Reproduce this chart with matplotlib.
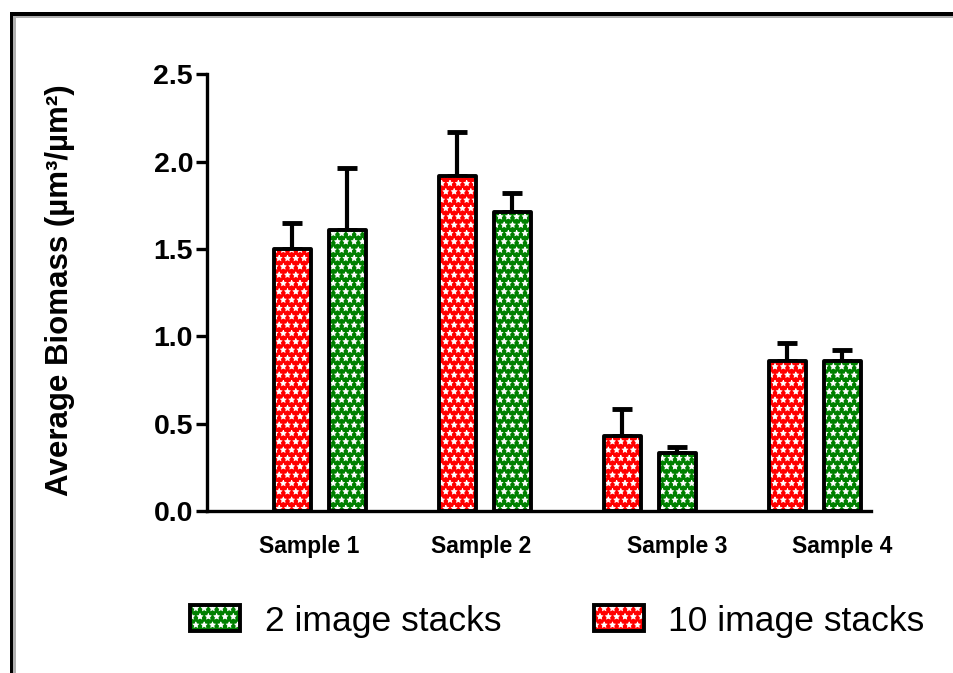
import numpy as np
import matplotlib
matplotlib.use("Agg")
import matplotlib.pyplot as plt
from matplotlib.patches import Patch, Rectangle
from matplotlib.legend_handler import HandlerTuple

plt.rcParams['font.family'] = ['Liberation Sans', 'DejaVu Sans']
plt.rcParams['hatch.linewidth'] = 0.6

samples = ['Sample 1', 'Sample 2', 'Sample 3', 'Sample 4']
ten_stacks = [1.50, 1.92, 0.43, 0.86]
ten_err = [0.15, 0.25, 0.155, 0.10]
two_stacks = [1.61, 1.71, 0.33, 0.86]
two_err = [0.355, 0.11, 0.035, 0.06]
yticks = [0.0, 0.5, 1.0, 1.5, 2.0, 2.5]

red = '#ff0000'
green = '#008000'

W, H = 954, 673
fig = plt.figure(figsize=(W / 100, H / 100), dpi=100)
ax = fig.add_axes([207 / W, 1 - 511 / H, (871 - 207) / W, (511 - 74.5) / H])

x = np.arange(len(samples))
off = 0.1667
bw = 0.224


def hatched_bars(xpos, vals, color):
    # fill + white pattern, then black outline on top
    ax.bar(xpos, vals, bw, color=color, edgecolor='white', hatch='**',
           linewidth=0, zorder=2)
    ax.bar(xpos, vals, bw, fill=False, edgecolor='black', linewidth=2.8,
           joinstyle='round', zorder=3)


hatched_bars(x - off, ten_stacks, red)
hatched_bars(x + off, two_stacks, green)

for xpos, vals, err in [(x - off, ten_stacks, ten_err), (x + off, two_stacks, two_err)]:
    ax.errorbar(xpos, vals, yerr=[np.zeros(len(vals)), err], fmt='none',
                ecolor='black', elinewidth=3, capsize=7.5, capthick=3.5, zorder=1.5)

ax.set_xlim(-0.682, 3.342)
ax.set_ylim(0, 2.5)

for s in ['top', 'right']:
    ax.spines[s].set_visible(False)
for s in ['left', 'bottom']:
    ax.spines[s].set_linewidth(2.4)

ax.set_yticks(yticks)
ax.set_yticklabels(['%.1f' % v for v in yticks], fontsize=20.5, fontweight='bold')
ax.tick_params(axis='y', length=8, width=2.4, pad=2)

# labels sit a bit off the group centres in the original
label_shift = [-0.06, -0.02, 0.17, 0.17]
ax.set_xticks(x + np.array(label_shift))
ax.set_xticklabels(samples, fontsize=16.5, fontweight='bold')
ax.tick_params(axis='x', length=0, pad=17)

ax.set_ylabel('Average Biomass (µm³/µm²)', fontsize=22.5, fontweight='bold')
ax.yaxis.set_label_coords(-0.199, 0.506)


# legend
def proxy(color):
    return (Patch(facecolor=color, edgecolor='white', hatch='**', linewidth=0),
            Patch(fill=False, edgecolor='black', linewidth=2.8, joinstyle='round'))


fig.legend([proxy(green), proxy(red)], ['2 image stacks', '10 image stacks'],
           handler_map={tuple: HandlerTuple(ndivide=1, pad=0)},
           loc='center', bbox_to_anchor=(557.5 / W, 1 - 621 / H), ncol=2,
           frameon=False, fontsize=25.5, handlelength=1.41, handleheight=0.76,
           handletextpad=0.7, columnspacing=2.6, borderpad=0)


# window-like frame on the top and left edges
def frame_rect(x0, y0, x1, y1, color):
    fig.add_artist(Rectangle((x0 / W, 1 - y1 / H), (x1 - x0) / W, (y1 - y0) / H,
                             transform=fig.transFigure, facecolor=color,
                             edgecolor='none', zorder=10))


frame_rect(10, 12, W, 16, 'black')
frame_rect(13, 16, W, 18, '#b0b0b0')
frame_rect(10, 12, 13, H, 'black')
frame_rect(13, 16, 16, H, '#b0b0b0')

fig.savefig('out.png', dpi=100)
